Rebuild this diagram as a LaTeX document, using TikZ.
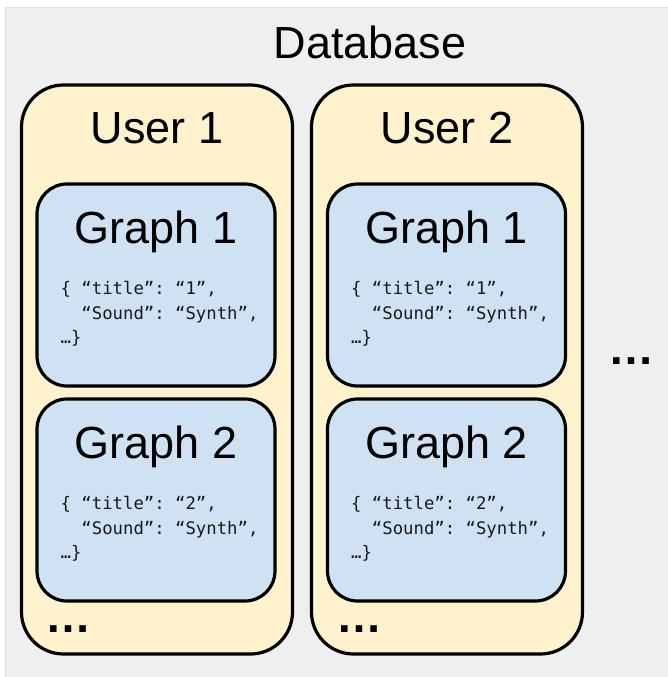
\documentclass[tikz,border=0pt]{standalone}
\usepackage{fontspec}
\setmainfont{Liberation Sans}
\setmonofont{DejaVu Sans Mono}
\usetikzlibrary{positioning}

\definecolor{dbgray}{HTML}{EFEFEF}
\definecolor{useryellow}{HTML}{FFF2CC}
\definecolor{graphblue}{HTML}{CFE2F3}

\begin{document}
\begin{tikzpicture}[x=1pt,y=-1pt,on grid,
      user/.style={draw,line width=3.2pt,fill=useryellow,rounded corners=42pt,
        minimum width=271pt,minimum height=569pt,inner sep=0pt},
      graph/.style={draw,line width=3.2pt,fill=graphblue,rounded corners=30pt,
        minimum width=238pt,minimum height=202pt,inner sep=0pt},
      big/.style={inner sep=0pt,font=\fontsize{45}{54}\selectfont},
      code/.style={inner sep=0pt,align=left,text=black!90,
        font=\ttfamily\fontsize{17.3}{24.5}\selectfont},
      dots/.style={inner sep=0pt,font=\bfseries\fontsize{46}{54}\selectfont}]
      \useasboundingbox (0,0) rectangle (668,677);
      \draw[draw=black!12,fill=dbgray] (5,7) rectangle (668,677);
      \node[big] (db) at (370,42) {Database};
      % users
      \node[user] (u1) at (157,369.5) {};
      \node[user] (u2) [right=290pt of u1] {};
      \node[big] (u1t) at ([yshift=-45pt]u1.north) {User 1};
      \node[big] (u2t) at ([yshift=-45pt]u2.north) {User 2};
      % graphs
      \node[graph] (g11) at (156,285) {};
      \node[graph] (g12) [below=215pt of g11] {};
      \node[graph] (g21) [right=290.5pt of g11] {};
      \node[graph] (g22) [below=215pt of g21] {};
      \foreach \u/\g in {1/1,1/2,2/1,2/2}{
        \node[big,anchor=base] (g\u\g t) at ([yshift=-61pt]g\u\g.north) {Graph \g};
        \node[code,anchor=north west] (g\u\g c) at ([xshift=25pt,yshift=-99pt]g\u\g.north west)
          {\{ “title”: “\g”,\\\hphantom{xx}“Sound”: “Synth”,\\…\}};
      }
      \node[dots] (u1d) at ([yshift=-26pt]g12.south west) [anchor=west,xshift=10pt] {…};
      \node[dots] (u2d) at ([yshift=-26pt]g22.south west) [anchor=west,xshift=10pt] {…};
      \node[dots] (more) at (631,361) {…};
    \end{tikzpicture}
\end{document}
